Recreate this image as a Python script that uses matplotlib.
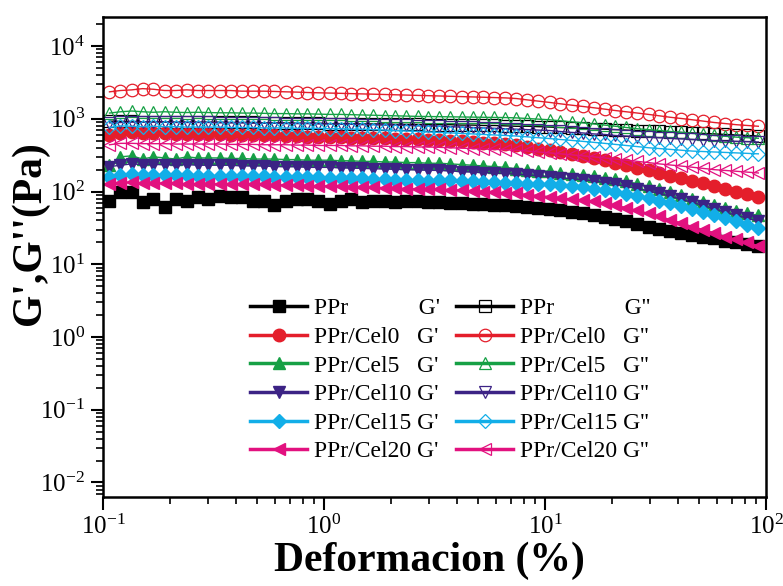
import matplotlib
matplotlib.use("Agg")
import matplotlib.pyplot as plt
from matplotlib.ticker import LogLocator, LogFormatterMathtext, NullFormatter

plt.rcParams['font.family'] = ['Liberation Serif', 'DejaVu Serif']
plt.rcParams['mathtext.fontset'] = 'stix'

# strain sweep (%)
strain = [0.107, 0.120, 0.135, 0.151, 0.169, 0.190, 0.213, 0.239, 0.268, 0.300,
          0.337, 0.378, 0.424, 0.475, 0.533, 0.597, 0.670, 0.751, 0.842, 0.944,
          1.06, 1.19, 1.33, 1.49, 1.67, 1.88, 2.10, 2.36, 2.65, 2.97,
          3.33, 3.73, 4.19, 4.70, 5.26, 5.90, 6.62, 7.42, 8.32, 9.33,
          10.5, 11.7, 13.2, 14.8, 16.6, 18.6, 20.8, 23.3, 26.2, 29.4,
          32.9, 36.9, 41.4, 46.4, 52.0, 58.3, 65.5, 73.4, 82.3, 92.3]

ppr_g1 = [73, 100, 100, 71, 80, 62, 80, 73, 85, 80, 88, 83, 83, 73, 73, 66, 75, 78, 80, 75,
          68, 75, 80, 71, 73, 73, 71, 75, 73, 71, 72, 70, 70, 68, 68, 66, 65, 64, 62, 60,
          58, 56, 53, 51, 48, 45, 42, 39, 36, 33, 31, 29, 27, 25, 24, 23, 21, 20, 19, 18]
ppr_g2 = [930, 920, 920, 910, 910, 910, 900, 900, 900, 900, 900, 890, 890, 890, 880, 880, 880, 870, 870, 870,
          860, 860, 860, 850, 850, 850, 840, 840, 840, 830, 830, 830, 820, 820, 810, 810, 800, 790, 790, 780,
          770, 760, 750, 740, 730, 720, 710, 700, 690, 680, 670, 660, 650, 640, 630, 620, 610, 600, 590, 580]

cel0_g1 = [600, 640, 650, 640, 630, 630, 620, 620, 610, 610, 610, 600, 600, 600, 590, 590, 580, 580, 570, 570,
           560, 560, 550, 550, 540, 540, 530, 530, 520, 510, 510, 500, 490, 480, 470, 460, 450, 430, 410, 390,
           370, 350, 330, 310, 290, 270, 250, 230, 210, 195, 180, 165, 152, 140, 130, 120, 110, 100, 92, 85]
cel0_g2 = [2350, 2450, 2500, 2600, 2550, 2450, 2450, 2500, 2450, 2450, 2450, 2450, 2400, 2400, 2400, 2380, 2350, 2330, 2300, 2280,
           2260, 2240, 2220, 2200, 2180, 2160, 2140, 2120, 2100, 2080, 2060, 2040, 2020, 2000, 1980, 1960, 1940, 1900, 1820, 1750,
           1680, 1610, 1540, 1480, 1420, 1360, 1300, 1250, 1200, 1150, 1100, 1050, 1010, 970, 930, 890, 860, 830, 810, 790]

cel5_g1 = [230, 300, 310, 280, 300, 290, 280, 300, 290, 290, 290, 285, 285, 280, 280, 280, 275, 275, 270, 270,
           270, 265, 265, 260, 260, 255, 255, 250, 250, 245, 245, 240, 235, 230, 225, 220, 215, 205, 198, 194,
           190, 182, 175, 168, 162, 155, 147, 138, 128, 118, 108, 98, 89, 80, 72, 65, 59, 54, 50, 47]
cel5_g2 = [1200, 1250, 1280, 1250, 1230, 1250, 1230, 1220, 1230, 1220, 1210, 1210, 1200, 1200, 1190, 1180, 1180, 1170, 1170, 1160,
           1150, 1150, 1140, 1130, 1120, 1110, 1100, 1090, 1080, 1075, 1070, 1065, 1060, 1055, 1050, 1045, 1040, 1030, 1010, 990,
           970, 940, 910, 880, 850, 820, 790, 760, 730, 710, 690, 670, 650, 630, 610, 590, 575, 560, 550, 540]

cel10_g1 = [220, 230, 240, 235, 235, 235, 230, 235, 230, 230, 230, 230, 225, 225, 225, 220, 220, 220, 215, 215,
            215, 212, 210, 208, 206, 204, 202, 200, 198, 196, 195, 192, 188, 185, 182, 180, 177, 173, 169, 165,
            160, 155, 150, 145, 140, 133, 126, 118, 110, 102, 94, 86, 78, 71, 64, 58, 52, 47, 43, 39]
cel10_g2 = [880, 890, 900, 900, 900, 900, 890, 890, 890, 890, 880, 880, 880, 870, 870, 870, 860, 860, 860, 850,
            850, 840, 840, 830, 830, 820, 820, 810, 800, 800, 790, 780, 770, 760, 750, 740, 730, 720, 710, 700,
            690, 670, 650, 640, 620, 610, 590, 580, 570, 560, 550, 540, 530, 520, 510, 500, 495, 490, 485, 480]

cel15_g1 = [160, 170, 175, 170, 170, 170, 168, 168, 166, 166, 165, 165, 164, 163, 162, 161, 160, 159, 158, 157,
            156, 155, 154, 152, 150, 148, 146, 144, 142, 140, 145, 143, 141, 139, 137, 135, 133, 131, 129, 127,
            125, 122, 118, 114, 110, 105, 99, 93, 87, 81, 75, 69, 63, 57, 52, 47, 43, 39, 35, 32]
cel15_g2 = [760, 800, 790, 780, 790, 780, 780, 770, 770, 770, 770, 760, 760, 760, 750, 750, 750, 740, 740, 740,
            730, 730, 720, 720, 710, 700, 690, 680, 670, 660, 650, 640, 630, 620, 610, 600, 590, 580, 565, 550,
            535, 520, 505, 490, 475, 460, 445, 430, 415, 400, 390, 380, 370, 360, 355, 350, 345, 340, 335, 330]

cel20_g1 = [125, 130, 135, 130, 130, 130, 130, 128, 128, 128, 127, 127, 126, 125, 125, 124, 123, 122, 121, 120,
            119, 118, 117, 116, 115, 113, 111, 110, 109, 108, 108, 106, 104, 102, 100, 98, 96, 94, 91, 88,
            85, 82, 79, 76, 73, 69, 65, 60, 55, 50, 46, 41, 37, 33, 30, 27, 24, 22, 20, 18]
cel20_g2 = [440, 460, 460, 455, 455, 455, 450, 450, 450, 450, 450, 445, 445, 445, 440, 440, 440, 435, 435, 430,
            430, 430, 425, 425, 420, 420, 415, 415, 410, 410, 405, 400, 395, 390, 385, 380, 375, 370, 360, 350,
            340, 330, 320, 310, 300, 290, 280, 270, 260, 250, 240, 232, 224, 216, 208, 200, 195, 190, 185, 180]

samples = ["PPr", "PPr/Cel0", "PPr/Cel5", "PPr/Cel10", "PPr/Cel15", "PPr/Cel20"]
name_pad = ["PPr            ", "PPr/Cel0   ", "PPr/Cel5   ", "PPr/Cel10 ", "PPr/Cel15 ", "PPr/Cel20 "]
g_storage = [ppr_g1, cel0_g1, cel5_g1, cel10_g1, cel15_g1, cel20_g1]
g_loss = [ppr_g2, cel0_g2, cel5_g2, cel10_g2, cel15_g2, cel20_g2]

colors = ["#000000", "#E41E2B", "#16A045", "#3C2385", "#12AEE8", "#E2117F"]
markers = ["s", "o", "^", "v", "D", "<"]
msizes = [8, 9, 9, 9, 7.5, 9]

fig = plt.figure(figsize=(7.83, 5.86), dpi=100)
ax = fig.add_axes([103 / 783, 1 - 497 / 586, 663 / 783, 480 / 586])

h_storage = []
h_loss = []
for i in range(len(samples)):
    l1, = ax.plot(strain, g_storage[i], color=colors[i], marker=markers[i], ms=msizes[i],
                  lw=1, mec=colors[i], mfc=colors[i], label=name_pad[i] + "G'")
    l2, = ax.plot(strain, g_loss[i], color=colors[i], marker=markers[i], ms=msizes[i],
                  lw=1, mec=colors[i], mfc='none', mew=0.9, label=name_pad[i] + "G''")
    h_storage.append(l1)
    h_loss.append(l2)

ax.set_xscale('log')
ax.set_yscale('log')
ax.set_xlim(0.1, 100)
ax.set_ylim(10 ** -2.2, 10 ** 4.4)

ax.xaxis.set_major_locator(LogLocator(base=10, numticks=10))
ax.yaxis.set_major_locator(LogLocator(base=10, numticks=10))
ax.xaxis.set_major_formatter(LogFormatterMathtext())
ax.yaxis.set_major_formatter(LogFormatterMathtext())
ax.xaxis.set_minor_locator(LogLocator(base=10, subs=range(2, 10), numticks=20))
ax.yaxis.set_minor_locator(LogLocator(base=10, subs=range(2, 10), numticks=20))
ax.xaxis.set_minor_formatter(NullFormatter())
ax.yaxis.set_minor_formatter(NullFormatter())

ax.tick_params(which='major', direction='out', length=9, width=1.5, labelsize=18, pad=4)
ax.tick_params(which='minor', direction='out', length=5, width=1.2)
ax.tick_params(top=False, right=False, which='both')
for s in ax.spines.values():
    s.set_linewidth(1.8)

ax.set_xlabel("Deformacion (%)", fontsize=30, fontweight='bold')
ax.set_ylabel("G',G''(Pa)", fontsize=30, fontweight='bold')
ax.xaxis.set_label_coords(0.493, -0.092)
ax.yaxis.set_label_coords(-0.082, 0.55)

handles = h_storage + h_loss
leg = ax.legend(handles=handles, ncol=2, loc='upper left', bbox_to_anchor=(0.222, 0.415),
                frameon=False, fontsize=17, handlelength=2.4, handletextpad=0.3,
                columnspacing=0.7, labelspacing=0.3, borderpad=0, borderaxespad=0)
for ln in leg.get_lines():
    ln.set_linewidth(2.5)

fig.savefig("out.png", dpi=100)
